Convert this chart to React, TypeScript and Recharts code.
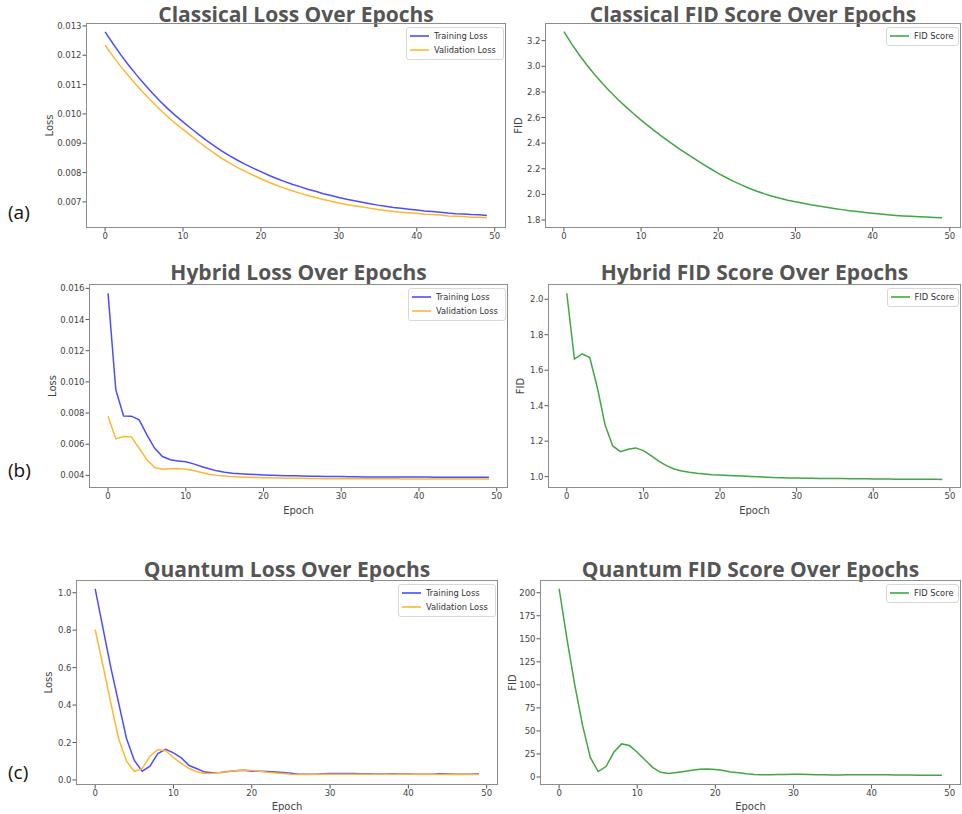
import React from 'react';
import { LineChart, Line, XAxis, YAxis, Legend } from 'recharts';

// epochs shared by every panel
const epochs = [
  0, 1, 2, 3, 4, 5, 6, 7, 8, 9, 10, 11, 12, 13, 14, 15, 16, 17, 18, 19, 20, 21, 22, 23, 24,
  25, 26, 27, 28, 29, 30, 31, 32, 33, 34, 35, 36, 37, 38, 39, 40, 41, 42, 43, 44, 45, 46, 47, 48, 49,
];
const epochTicks = [0, 10, 20, 30, 40, 50];

// (a) classical
const classicalTrainLoss = [
  0.0128, 0.0124, 0.01202, 0.01167, 0.01134, 0.01103, 0.01073, 0.01045, 0.01019, 0.00995,
  0.00973, 0.00951, 0.0093, 0.0091, 0.00891, 0.00873, 0.00857, 0.00842, 0.00828, 0.00815,
  0.00803, 0.00791, 0.0078, 0.0077, 0.0076, 0.00752, 0.00743, 0.00736, 0.00728, 0.00722,
  0.00715, 0.00709, 0.00704, 0.00699, 0.00694, 0.00689, 0.00685, 0.00681, 0.00678, 0.00675,
  0.00672, 0.00669, 0.00667, 0.00665, 0.00662, 0.0066, 0.00659, 0.00657, 0.00656, 0.00654,
];
const classicalValLoss = [
  0.01234, 0.01197, 0.01162, 0.0113, 0.01099, 0.0107, 0.01042, 0.01016, 0.00991, 0.00968,
  0.00947, 0.00926, 0.00905, 0.00885, 0.00866, 0.00848, 0.00832, 0.00817, 0.00804, 0.00791,
  0.00779, 0.00767, 0.00757, 0.00747, 0.00738, 0.0073, 0.00722, 0.00715, 0.00708, 0.00702,
  0.00696, 0.00691, 0.00687, 0.00683, 0.00678, 0.00674, 0.00671, 0.00667, 0.00665, 0.00663,
  0.00661, 0.00658, 0.00657, 0.00655, 0.00652, 0.00651, 0.0065, 0.00648, 0.00648, 0.00646,
];
const classicalFid = [
  3.27, 3.175, 3.088, 3.008, 2.934, 2.865, 2.801, 2.741, 2.685, 2.631,
  2.58, 2.531, 2.484, 2.439, 2.396, 2.354, 2.314, 2.275, 2.237, 2.2,
  2.164, 2.132, 2.102, 2.074, 2.048, 2.025, 2.004, 1.985, 1.969, 1.955,
  1.943, 1.931, 1.919, 1.909, 1.899, 1.89, 1.881, 1.873, 1.866, 1.859,
  1.852, 1.846, 1.841, 1.836, 1.832, 1.829, 1.826, 1.823, 1.82, 1.818,
];

// (b) hybrid
const hybridTrainLoss = [
  0.01568, 0.00948, 0.00781, 0.0078, 0.00756, 0.0066, 0.00574, 0.00521, 0.005, 0.00493,
  0.00487, 0.00474, 0.00457, 0.00442, 0.00429, 0.0042, 0.00414, 0.0041, 0.00407, 0.00405,
  0.00403, 0.00401, 0.00399, 0.00398, 0.00397, 0.00396, 0.00395, 0.00394, 0.00393, 0.00392,
  0.00392, 0.00391, 0.00391, 0.0039, 0.0039, 0.0039, 0.0039, 0.00389, 0.00389, 0.00389,
  0.00389, 0.00389, 0.00388, 0.00388, 0.00388, 0.00388, 0.00388, 0.00388, 0.00388, 0.00388,
];
const hybridValLoss = [
  0.0078, 0.00634, 0.00649, 0.00647, 0.00574, 0.005, 0.0045, 0.0044, 0.00442, 0.00444,
  0.0044, 0.00431, 0.00418, 0.00407, 0.004, 0.00396, 0.00392, 0.0039, 0.00388, 0.00386,
  0.00385, 0.00384, 0.00383, 0.00382, 0.00381, 0.00381, 0.0038, 0.0038, 0.00379, 0.00379,
  0.00379, 0.00379, 0.00378, 0.00378, 0.00378, 0.00378, 0.00378, 0.00378, 0.00377, 0.00377,
  0.00377, 0.00377, 0.00377, 0.00377, 0.00377, 0.00377, 0.00376, 0.00376, 0.00376, 0.00376,
];
const hybridFid = [
  2.034, 1.663, 1.692, 1.671, 1.5, 1.291, 1.173, 1.141, 1.154, 1.162,
  1.147, 1.118, 1.088, 1.062, 1.043, 1.032, 1.025, 1.019, 1.015, 1.011,
  1.009, 1.007, 1.005, 1.003, 1.001, 0.999, 0.997, 0.995, 0.994, 0.993,
  0.992, 0.991, 0.991, 0.99, 0.99, 0.989, 0.989, 0.988, 0.988, 0.988,
  0.987, 0.987, 0.987, 0.986, 0.986, 0.986, 0.985, 0.985, 0.985, 0.984,
];

// (c) quantum
const quantumTrainLoss = [
  1.021, 0.81, 0.6, 0.41, 0.221, 0.104, 0.047, 0.074, 0.141, 0.163,
  0.145, 0.118, 0.077, 0.06, 0.042, 0.038, 0.04, 0.045, 0.049, 0.052,
  0.046, 0.047, 0.045, 0.043, 0.04, 0.036, 0.031, 0.03, 0.031, 0.033,
  0.035, 0.034, 0.034, 0.035, 0.033, 0.033, 0.032, 0.032, 0.033, 0.032,
  0.032, 0.031, 0.031, 0.031, 0.033, 0.032, 0.031, 0.031, 0.031, 0.033,
];
const quantumValLoss = [
  0.803, 0.61, 0.41, 0.22, 0.1, 0.045, 0.06, 0.127, 0.163, 0.156,
  0.12, 0.088, 0.061, 0.044, 0.034, 0.036, 0.04, 0.045, 0.05, 0.053,
  0.05, 0.046, 0.041, 0.037, 0.034, 0.031, 0.029, 0.029, 0.03, 0.031,
  0.031, 0.03, 0.03, 0.031, 0.031, 0.03, 0.03, 0.03, 0.03, 0.03,
  0.03, 0.03, 0.03, 0.03, 0.029, 0.029, 0.029, 0.029, 0.029, 0.03,
];
const quantumFid = [
  204.3, 150, 100, 56, 21, 5.9, 11.3, 26.8, 35.9, 34.1,
  26.8, 18.5, 10.2, 5.1, 3.7, 4.8, 6, 7.3, 8.4, 8.6,
  8.2, 7, 5.5, 4.5, 3.5, 2.8, 2.3, 2.3, 2.6, 2.8,
  3, 2.9, 2.7, 2.5, 2.3, 2.2, 2.2, 2.3, 2.4, 2.5,
  2.5, 2.4, 2.3, 2.2, 2.1, 2.1, 2, 2, 2, 2,
];

// y tick labels
const classicalLossTicks = [0.007, 0.008, 0.009, 0.01, 0.011, 0.012, 0.013];
const classicalFidTicks = [1.8, 2.0, 2.2, 2.4, 2.6, 2.8, 3.0, 3.2];
const hybridLossTicks = [0.004, 0.006, 0.008, 0.01, 0.012, 0.014, 0.016];
const hybridFidTicks = [1.0, 1.2, 1.4, 1.6, 1.8, 2.0];
const quantumLossTicks = [0, 0.2, 0.4, 0.6, 0.8, 1.0];
const quantumFidTicks = [0, 25, 50, 75, 100, 125, 150, 175, 200];

const rowTags = ['(a)', '(b)', '(c)'];

const BLUE = '#4d4dff';
const ORANGE = '#ffb733';
const GREEN = '#42a642';
const TICK_FONT = 'DejaVu Sans, sans-serif';

type Series = { key: string; name: string; color: string; values: number[] };
type PanelCfg = {
  title: string;
  x: number; y: number; w: number; h: number;
  titleBase: number;
  yDomain: [number, number];
  yTicks: number[];
  fmt: (v: number) => string;
  yLabel: string;
  yLabelX: number;
  epochBaseline?: number;
  legendW: number;
  series: Series[];
};

const lossSeries = (train: number[], val: number[]): Series[] => [
  { key: 'train', name: 'Training Loss', color: BLUE, values: train },
  { key: 'val', name: 'Validation Loss', color: ORANGE, values: val },
];
const fidSeries = (fid: number[]): Series[] => [{ key: 'fid', name: 'FID Score', color: GREEN, values: fid }];

const f3 = (v: number) => v.toFixed(3);
const f1 = (v: number) => v.toFixed(1);
const f0 = (v: number) => String(v);

const panels: PanelCfg[] = [
  { title: 'Classical Loss Over Epochs', x: 86, y: 23, w: 420, h: 205, titleBase: 22.6,
    yDomain: [0.00611, 0.0131], yTicks: classicalLossTicks, fmt: f3, yLabel: 'Loss', yLabelX: 49,
    legendW: 98, series: lossSeries(classicalTrainLoss, classicalValLoss) },
  { title: 'Classical FID Score Over Epochs', x: 545, y: 23, w: 416, h: 205, titleBase: 22.6,
    yDomain: [1.7375, 3.338], yTicks: classicalFidTicks, fmt: f1, yLabel: 'FID', yLabelX: 518,
    legendW: 73, series: fidSeries(classicalFid) },
  { title: 'Hybrid Loss Over Epochs', x: 89, y: 284, w: 419, h: 204, titleBase: 280,
    yDomain: [0.00319, 0.01628], yTicks: hybridLossTicks, fmt: f3, yLabel: 'Loss', yLabelX: 52,
    epochBaseline: 513.5, legendW: 98, series: lossSeries(hybridTrainLoss, hybridValLoss) },
  { title: 'Hybrid FID Score Over Epochs', x: 548, y: 284, w: 413, h: 204, titleBase: 280,
    yDomain: [0.936, 2.086], yTicks: hybridFidTicks, fmt: f1, yLabel: 'FID', yLabelX: 520,
    epochBaseline: 513.5, legendW: 72, series: fidSeries(hybridFid) },
  { title: 'Quantum Loss Over Epochs', x: 76, y: 580, w: 422, h: 205, titleBase: 577,
    yDomain: [-0.027, 1.068], yTicks: quantumLossTicks, fmt: f1, yLabel: 'Loss', yLabelX: 48,
    epochBaseline: 809.5, legendW: 98, series: lossSeries(quantumTrainLoss, quantumValLoss) },
  { title: 'Quantum FID Score Over Epochs', x: 540, y: 580, w: 421, h: 205, titleBase: 577,
    yDomain: [-8.7, 213.8], yTicks: quantumFidTicks, fmt: f0, yLabel: 'FID', yLabelX: 512,
    epochBaseline: 809.5, legendW: 73, series: fidSeries(quantumFid) },
];

const LegendBox = ({ payload, series }: { payload?: any[]; series: Series[] }) => (
  <div style={{
    border: '1px solid #d8d8d8', borderRadius: 3, background: '#fff',
    padding: '1px 4px 2px 3px', fontFamily: TICK_FONT, fontSize: 8.3, color: '#333',
  }}>
    {(payload || []).map((entry: any) => {
      const s = series.find((it) => it.key === entry.dataKey || it.name === entry.value);
      const color = s ? s.color : entry.color;
      return (
        <div key={entry.value} style={{ display: 'flex', alignItems: 'center', height: 14, whiteSpace: 'nowrap' }}>
          <svg width={19} height={4} style={{ marginRight: 5, display: 'block' }}>
            <line x1={0} y1={2} x2={19} y2={2} stroke={color} strokeWidth={1.6} />
          </svg>
          <span>{entry.value}</span>
        </div>
      );
    })}
  </div>
);

const Panel = ({ p }: { p: PanelCfg }) => {
  const yAxisW = 60;
  const topM = 6;
  const rightM = 4;
  const xAxisH = 30;
  const chartLeft = p.x - yAxisW;
  const chartTop = p.y - topM;
  const data = epochs.map((e, i) => {
    const row: Record<string, number> = { epoch: e };
    p.series.forEach((s) => { row[s.key] = s.values[i]; });
    return row;
  });
  const tickStyle = { fontSize: 8.5, fill: '#444', fontFamily: TICK_FONT };
  const plotBottom = p.y + p.h;
  const center = p.x + p.w / 2;

  return (
    <>
      <div style={{
        position: 'absolute', left: center - 200, width: 400, top: p.titleBase - 19.15, textAlign: 'center',
        fontFamily: '"Open Sans", sans-serif', fontWeight: 700, fontSize: 21, lineHeight: '22px', color: '#555',
        whiteSpace: 'nowrap',
      }}>
        {p.title}
      </div>
      <div style={{ position: 'absolute', left: chartLeft, top: chartTop }}>
        <LineChart
          width={yAxisW + p.w + rightM}
          height={topM + p.h + xAxisH}
          data={data}
          margin={{ top: topM, right: rightM, left: 0, bottom: 0 }}
        >
          <XAxis
            dataKey="epoch"
            type="number"
            domain={[-2.45, 51.45]}
            ticks={epochTicks}
            allowDataOverflow
            height={xAxisH}
            axisLine={false}
            tickSize={3.5}
            tickMargin={1}
            tickLine={{ stroke: '#555' }}
            tick={tickStyle}
            label={p.epochBaseline ? {
              value: 'Epoch', position: 'insideBottom', offset: plotBottom + xAxisH - p.epochBaseline,
              style: { fontSize: 10, fill: '#444', fontFamily: TICK_FONT },
            } : undefined}
          />
          <YAxis
            type="number"
            domain={p.yDomain}
            ticks={p.yTicks}
            allowDataOverflow
            width={yAxisW}
            axisLine={false}
            tickSize={3.5}
            tickMargin={1}
            tickLine={{ stroke: '#555' }}
            tick={tickStyle}
            tickFormatter={p.fmt}
            label={{
              value: p.yLabel, angle: -90, position: 'insideLeft', offset: p.yLabelX - chartLeft,
              style: { textAnchor: 'middle', fontSize: 10, fill: '#444', fontFamily: TICK_FONT },
            }}
          />
          <Legend
            layout="vertical"
            align="center"
            verticalAlign="middle"
            content={(props: any) => <LegendBox payload={props.payload} series={p.series} />}
            wrapperStyle={{ top: topM + 4, left: yAxisW + p.w - 2 - p.legendW, width: p.legendW, height: 'auto' }}
          />
          {p.series.map((s) => (
            <Line
              key={s.key}
              dataKey={s.key}
              name={s.name}
              type="linear"
              stroke={s.color}
              strokeWidth={1.5}
              dot={false}
              activeDot={false}
              isAnimationActive={false}
            />
          ))}
        </LineChart>
      </div>
      <div style={{
        position: 'absolute', left: p.x, top: p.y, width: p.w, height: p.h,
        border: '1px solid #8c8c8c', boxSizing: 'border-box', pointerEvents: 'none',
      }} />
    </>
  );
};

const tagTops = [203, 461, 763];

export default function App() {
  return (
    <div style={{ position: 'absolute', left: 0, top: 0, width: 962, height: 814, background: '#fff', overflow: 'hidden' }}>
      {panels.map((p) => <Panel key={p.title} p={p} />)}
      {rowTags.map((t, i) => (
        <div key={t} style={{
          position: 'absolute', left: 8, top: tagTops[i], fontFamily: '"Open Sans", sans-serif',
          fontSize: 19, lineHeight: '19px', color: '#111',
        }}>
          {t}
        </div>
      ))}
    </div>
  );
}
